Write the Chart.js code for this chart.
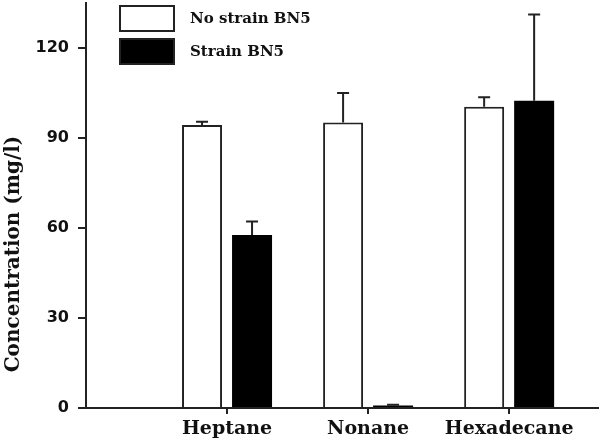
<!DOCTYPE html>
<html>
<head>
<meta charset="utf-8">
<script src="https://cdn.jsdelivr.net/npm/chart.js@4/dist/chart.umd.min.js"></script>
<style>
  html, body { margin: 0; padding: 0; background: #fff; }
  #wrap { width: 600px; height: 447px; position: relative; }
</style>
</head>
<body>
<div id="wrap"><canvas id="concChart"></canvas></div>
<script>
const categories = ['Heptane', 'Nonane', 'Hexadecane'];
const noStrain = [94.3, 95.2, 100.4];
const noStrainErr = [1.1, 9.8, 3.2];
const strainBN5 = [57.7, 0.8, 102.4];
const strainBN5Err = [4.5, 0.3, 28.8];
const yTicks = [0, 30, 60, 90, 120];

const serif = 'DejaVu Serif';
const sans = 'DejaVu Sans';

// upward-only error bars, like the SigmaPlot original
const errorBars = {
  id: 'errorBars',
  afterDatasetsDraw(chart) {
    const ctx = chart.ctx;
    const y = chart.scales.y;
    chart.data.datasets.forEach((ds, i) => {
      const meta = chart.getDatasetMeta(i);
      meta.data.forEach((bar, j) => {
        const top = y.getPixelForValue(ds.data[j].y + ds.errors[j]);
        ctx.save();
        ctx.strokeStyle = '#222';
        ctx.lineWidth = 2;
        ctx.beginPath();
        ctx.moveTo(bar.x, bar.y);
        ctx.lineTo(bar.x, top);
        ctx.moveTo(bar.x - 6, top);
        ctx.lineTo(bar.x + 6, top);
        ctx.stroke();
        ctx.restore();
      });
    });
  }
};

// legend sits inside the plot, top left
const boxLegend = {
  id: 'boxLegend',
  afterDraw(chart) {
    const ctx = chart.ctx;
    ctx.save();
    chart.data.datasets.forEach((ds, i) => {
      const top = 6 + i * 33;
      ctx.fillStyle = ds.backgroundColor;
      ctx.fillRect(120, top, 54, 25);
      ctx.strokeStyle = '#222';
      ctx.lineWidth = 2;
      ctx.strokeRect(120, top, 54, 25);
      ctx.fillStyle = '#111';
      ctx.font = 'bold 15px "' + serif + '"';
      ctx.textBaseline = 'middle';
      ctx.fillText(ds.label, 190, top + 13);
    });
    ctx.restore();
  }
};

const yTitle = {
  id: 'yTitle',
  afterDraw(chart) {
    const ctx = chart.ctx;
    ctx.save();
    ctx.translate(14, 254);
    ctx.rotate(-Math.PI / 2);
    ctx.fillStyle = '#111';
    ctx.font = 'bold 20px "' + serif + '"';
    ctx.textAlign = 'center';
    ctx.textBaseline = 'middle';
    ctx.fillText('Concentration (mg/l)', 0, 0);
    ctx.restore();
  }
};

new Chart(document.getElementById('concChart'), {
  type: 'bar',
  data: {
    datasets: [
      {
        label: 'No strain BN5',
        data: noStrain.map((v, i) => ({ x: i + 1, y: v })),
        errors: noStrainErr,
        backgroundColor: '#ffffff',
        borderColor: '#222',
        borderWidth: 2,
        borderSkipped: 'bottom'
      },
      {
        label: 'Strain BN5',
        data: strainBN5.map((v, i) => ({ x: i + 1, y: v })),
        errors: strainBN5Err,
        backgroundColor: '#000000',
        borderColor: '#000',
        borderWidth: 0
      }
    ]
  },
  options: {
    responsive: true,
    maintainAspectRatio: false,
    animation: false,
    categoryPercentage: 0.709,
    barPercentage: 0.8,
    layout: { padding: { top: 3, right: 2, left: 0, bottom: 0 } },
    plugins: {
      legend: { display: false },
      tooltip: { enabled: false }
    },
    scales: {
      x: {
        type: 'linear',
        offset: false,
        min: 0,
        max: 3.63,
        afterBuildTicks: (scale) => {
          scale.ticks = categories.map((c, i) => ({ value: i + 1 }));
        },
        afterFit: (scale) => {
          scale.height = 39;
          scale.paddingLeft = 0;
          scale.paddingRight = 0;
        },
        ticks: {
          callback: (value) => categories[value - 1],
          color: '#111',
          font: { family: serif, size: 19, weight: 'bold' },
          padding: 4,
          maxRotation: 0,
          autoSkip: false
        },
        grid: { offset: false, drawOnChartArea: false, drawTicks: true, tickLength: 6, color: '#222', lineWidth: 2 },
        border: { display: true, color: '#222', width: 2 }
      },
      y: {
        min: 0,
        max: 135,
        afterBuildTicks: (scale) => {
          scale.ticks = yTicks.map(v => ({ value: v }));
        },
        afterFit: (scale) => {
          scale.width = 86;
          scale.paddingTop = 0;
          scale.paddingBottom = 0;
        },
        ticks: {
          color: '#111',
          font: { family: sans, size: 16, weight: 'bold' },
          padding: 9
        },
        grid: { drawOnChartArea: false, drawTicks: true, tickLength: 8, color: '#222', lineWidth: 2 },
        border: { display: true, color: '#222', width: 2 }
      }
    }
  },
  plugins: [errorBars, boxLegend, yTitle]
});
</script>
</body>
</html>
